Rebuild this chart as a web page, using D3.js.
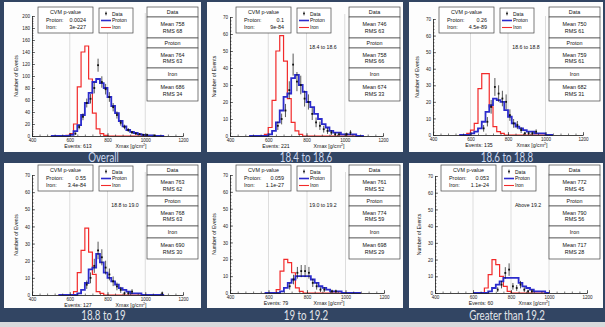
<!DOCTYPE html>
<html><head><meta charset="utf-8">
<script src="https://cdn.jsdelivr.net/npm/d3@7"></script>
<style>html,body{margin:0;padding:0;background:#324563;overflow:hidden}</style>
</head><body><svg id="c" width="605" height="327"></svg>
<script>
// ---------------- DATA ----------------
const binStart = 500, binWidth = 20;           // Xmax bins in g/cm^2
const xTicks = [400, 600, 800, 1000, 1200];
const gridLines = [600, 800, 1000];
const captions = ["Overall", "18.4 to 18.6", "18.6 to 18.8", "18.8 to 19", "19 to 19.2", "Greater than 19.2"];
const energyLabels = ["", "18.4 to 18.6", "18.6 to 18.8", "18.8 to 19.0", "19.0 to 19.2", "Above 19.2"];
const eventCounts = [613, 221, 135, 127, 79, 60];
const yMaxes = [200, 70, 70, 70, 70, 70];
const yTickSteps = [20, 10, 10, 10, 10, 10];
const cvmProton = ["0.0024", "0.1", "0.26", "0.55", "0.059", "0.053"];
const cvmIron = ["3e-227", "9e-84", "4.5e-89", "3.4e-84", "1.1e-27", "1.1e-24"];
const dataMean = [758, 746, 750, 763, 761, 772];
const dataRms = [68, 63, 61, 62, 52, 45];
const protonMean = [764, 758, 759, 768, 774, 790];
const protonRms = [63, 66, 61, 63, 59, 56];
const ironMean = [686, 674, 682, 690, 698, 717];
const ironRms = [34, 33, 31, 30, 29, 28];

// histogram contents per 20 g/cm^2 bin starting at 500 (null = outside histogram range)
const iron_all   = [0,0,0,0,1,4,20,82,140,150,95,38,12,4,1,0,0,0,0,0,0,0,0,0,0,0,0,0,0,0];
const proton_all = [0,0,0,0,0,2,8,18,35,55,72,90,95,88,80,65,50,38,25,16,10,7,5,3,2,1,1,0,0,0];
const data_all   = [0,0,0,0,0,0,4,15,32,55,62,80,118,90,78,65,48,35,22,15,10,6,4,3,2,2,0,1,0,0];

const iron_184   = [0,0,0,0,1,5,21,50,59,44,22,8,3,1,0,0,0,0,0,0,0,0,0,0,0,0,0,0,0,0];
const proton_184 = [0,0,0,0,0,1,3,8,15,23,25,34,36,30,26,20,17,13,10,7,5,3,2,2,1,1,1,1,0,0];
const data_184   = [0,0,0,0,0,0,0,6,10,15,27,42,32,30,22,20,13,8,6,4,3,2,1,1,0,1,2,0,0,0];

const iron_186   = [null,null,0,0,1,3,7,28,37,37,17,5,2,1,0,0,0,0,0,0,0,0,0,0,0,0,0,null,null,null];
const proton_186 = [null,null,0,0,0,1,2,4,8,14,18,22,21,20,15,11,7,5,4,3,2,2,1,1,1,0,0,null,null,null];
const data_186   = [null,null,0,0,0,0,0,0,4,8,17,29,25,22,20,12,7,6,3,1,1,1,2,0,0,0,0,null,null,null];

const iron_188   = [null,null,0,0,0,0,2,13,26,39,25,12,2,1,0,0,0,0,0,0,0,0,0,0,0,0,0,0,0,0];
const proton_188 = [null,null,0,0,0,0,0,1,3,7,15,16,24,19,13,10,8,6,4,3,2,1,1,1,0,0,0,0,0,0];
const data_188   = [null,null,0,0,0,0,0,0,0,6,10,17,26,22,16,12,8,5,3,1,1,2,0,0,0,0,0,0,0,1];

const iron_190   = [null,null,null,null,0,0,0,2,13,20,18,12,3,1,0,0,0,0,0,0,0,0,0,0,0,0,0,0,0,null];
const proton_190 = [null,null,null,null,0,0,0,0,1,3,6,8,10,10,10,10,8,6,4,3,2,1,1,1,0,0,0,0,0,null];
const data_190   = [null,null,null,null,0,0,0,0,0,0,4,8,12,13,13,12,6,4,2,2,0,1,1,0,0,0,0,0,0,null];

const iron_192   = [null,null,null,null,null,0,0,0,3,11,20,17,10,4,1,0,0,0,0,0,0,0,0,0,0,null,null,null,null,null];
const proton_192 = [null,null,null,null,null,0,0,0,0,1,3,5,7,9,9,9,9,6,4,3,2,1,1,1,0,null,null,null,null,null];
const data_192   = [null,null,null,null,null,0,0,0,0,0,0,2,5,12,14,4,3,5,2,1,1,0,0,0,0,null,null,null,null,null];

const ironSeries = [iron_all, iron_184, iron_186, iron_188, iron_190, iron_192];
const protonSeries = [proton_all, proton_184, proton_186, proton_188, proton_190, proton_192];
const dataSeries = [data_all, data_184, data_186, data_188, data_190, data_192];

// ---------------- LAYOUT ----------------
const layout = [
  {px:4,   py:2,   pw:197, ph:150, ax0:32,  ax1:183, ay0:136, ay1:16,  by:7,   capY:161.5},
  {px:207, py:2,   pw:196, ph:150, ax0:230, ax1:383, ay0:136, ay1:17,  by:7,   capY:161.5},
  {px:409, py:2,   pw:194, ph:150, ax0:433, ax1:583, ay0:135, ay1:19,  by:7,   capY:161.5},
  {px:4,   py:163, pw:197, ph:145, ax0:32,  ax1:183, ay0:295, ay1:175, by:165, capY:319.5},
  {px:207, py:163, pw:196, ph:145, ax0:230, ax1:384, ay0:293, ay1:175, by:165, capY:319.5},
  {px:409, py:163, pw:194, ph:145, ax0:435, ax1:587, ay0:293, ay1:176, by:165, capY:319.5}
];
const RED = "#f22a2a", BLUE = "#2b2bcc", FONT = "Liberation Sans, Arial, sans-serif";

const svg = d3.select("#c");
svg.append("rect").attr("width", 605).attr("height", 327).attr("fill", "#324563");
svg.append("rect").attr("y", 322).attr("width", 605).attr("height", 5).attr("fill", "#d9dadc");

function txt(g, x, y, s, size, anchor, extra) {
  const t = g.append("text").attr("x", x).attr("y", y).text(s)
    .attr("font-family", FONT).attr("font-size", size).attr("fill", "#111")
    .attr("text-anchor", anchor || "start");
  if (extra) extra(t);
  return t;
}

function histPoints(vals, x, y) {
  const pts = []; let last = null;
  vals.forEach((v, i) => {
    if (v == null) return;
    const x0 = x(binStart + i * binWidth), x1 = x(binStart + (i + 1) * binWidth);
    if (last == null) pts.push([x0, y(0)]);
    pts.push([x0, y(v)], [x1, y(v)]);
    last = x1;
  });
  pts.push([last, y(0)]);
  return pts;
}

function drawPanel(k) {
  const L = layout[k];
  const g = svg.append("g");
  g.append("rect").attr("x", L.px).attr("y", L.py).attr("width", L.pw).attr("height", L.ph).attr("fill", "#fdfdfd");

  const x = d3.scaleLinear().domain([400, 1200]).range([L.ax0, L.ax1]);
  const y = d3.scaleLinear().domain([0, yMaxes[k]]).range([L.ay0, L.ay1]);

  // grid
  g.selectAll(".grid").data(gridLines).enter().append("line")
    .attr("x1", d => x(d)).attr("x2", d => x(d)).attr("y1", y(yMaxes[k]) - 3).attr("y2", L.ay0)
    .attr("stroke", "#cfcfcf").attr("stroke-width", 0.7);

  const line = d3.line();
  g.append("path").attr("d", line(histPoints(ironSeries[k], x, y)))
    .attr("fill", "none").attr("stroke", RED).attr("stroke-width", 1.2);
  g.append("path").attr("d", line(histPoints(protonSeries[k], x, y)))
    .attr("fill", "none").attr("stroke", BLUE).attr("stroke-width", 1.8);

  // data points with sqrt(N) errors
  const pts = dataSeries[k].map((v, i) => ({v, c: binStart + (i + 0.5) * binWidth})).filter(d => d.v);
  g.selectAll(".err").data(pts).enter().append("line")
    .attr("x1", d => x(d.c)).attr("x2", d => x(d.c))
    .attr("y1", d => y(Math.max(0, d.v - Math.sqrt(d.v)))).attr("y2", d => y(d.v + Math.sqrt(d.v)))
    .attr("stroke", "#111").attr("stroke-width", 0.7);
  g.selectAll(".pt").data(pts).enter().append("rect")
    .attr("x", d => x(d.c) - 0.9).attr("y", d => y(d.v) - 0.9).attr("width", 1.8).attr("height", 1.8)
    .attr("fill", "#111");

  // axes
  const yTicks = d3.range(0, yMaxes[k] + 0.001, yTickSteps[k]);
  const yMinor = d3.range(0, yMaxes[k] + 0.001, yTickSteps[k] / 5);
  const ax = g.append("g").attr("transform", `translate(${L.ax0},0)`)
    .call(d3.axisLeft(y).tickValues(yMinor).tickSize(-1.5).tickSizeOuter(0).tickFormat(""));
  const ax2 = g.append("g").attr("transform", `translate(${L.ax0},0)`)
    .call(d3.axisLeft(y).tickValues(yTicks).tickSize(-3).tickSizeOuter(0).tickPadding(2).tickFormat(d3.format("d")));
  const bx = g.append("g").attr("transform", `translate(0,${L.ay0})`)
    .call(d3.axisBottom(x).tickValues(d3.range(400, 1201, 40)).tickSize(-1.5).tickSizeOuter(0).tickFormat(""));
  const bx2 = g.append("g").attr("transform", `translate(0,${L.ay0})`)
    .call(d3.axisBottom(x).tickValues(xTicks).tickSize(-3).tickSizeOuter(0).tickPadding(2).tickFormat(d3.format("d")));
  [ax, ax2, bx, bx2].forEach(a => {
    a.selectAll("path,line").attr("stroke", "#222").attr("stroke-width", 0.6);
    a.selectAll("text").attr("font-family", FONT).attr("font-size", 4.6).attr("fill", "#222");
  });
  ax2.selectAll("text").attr("dy", "0.35em");
  bx2.selectAll("text").attr("dy", "0.9em");

  // axis titles
  txt(g, 0, 0, "Number of Events", 5.2, "middle", t =>
    t.attr("transform", `translate(${L.ax0 - 14},${(L.ay0 + L.ay1) / 2}) rotate(-90)`).attr("x", null).attr("y", null));
  txt(g, L.ax0 + 46, L.ay0 + 12, "Events: " + eventCounts[k], 5.2, "middle");
  const xt = txt(g, L.ax0 + 99, L.ay0 + 12, "Xmax  [g/cm", 5.2, "middle");
  xt.append("tspan").text("2").attr("font-size", 3.5).attr("dy", -2);
  xt.append("tspan").text("]").attr("dy", 2);

  if (energyLabels[k]) txt(g, L.ax0 + 93, L.by + 42, energyLabels[k], 5.2, "middle");

  // CVM box
  const cx = L.ax0 + 6, cw = 55, ch = 26;
  g.append("rect").attr("x", cx).attr("y", L.by).attr("width", cw).attr("height", ch)
    .attr("fill", "#fff").attr("stroke", "#444").attr("stroke-width", 0.7);
  txt(g, cx + cw / 2, L.by + 7, "CVM p-value", 5.4, "middle");
  txt(g, cx + 8, L.by + 14.5, "Proton:", 5.4);
  txt(g, cx + cw - 7, L.by + 14.5, cvmProton[k], 5.4, "end");
  txt(g, cx + 8, L.by + 21.5, "Iron:", 5.4);
  txt(g, cx + cw - 7, L.by + 21.5, cvmIron[k], 5.4, "end");

  // legend box
  const lx = L.ax0 + 67, lw = 34;
  g.append("rect").attr("x", lx).attr("y", L.by + 1).attr("width", lw).attr("height", ch - 1)
    .attr("fill", "#fff").attr("stroke", "#444").attr("stroke-width", 0.7);
  g.append("line").attr("x1", lx + 7).attr("x2", lx + 7).attr("y1", L.by + 4.5).attr("y2", L.by + 8.5).attr("stroke", "#111").attr("stroke-width", 0.6);
  g.append("rect").attr("x", lx + 6.2).attr("y", L.by + 5.7).attr("width", 1.6).attr("height", 1.6).attr("fill", "#111");
  txt(g, lx + 13, L.by + 8.5, "Data", 5);
  g.append("line").attr("x1", lx + 2).attr("x2", lx + 12).attr("y1", L.by + 13.5).attr("y2", L.by + 13.5).attr("stroke", BLUE).attr("stroke-width", 1.6);
  txt(g, lx + 13, L.by + 15.3, "Proton", 5);
  g.append("line").attr("x1", lx + 2).attr("x2", lx + 12).attr("y1", L.by + 20.5).attr("y2", L.by + 20.5).attr("stroke", RED).attr("stroke-width", 1.1);
  txt(g, lx + 13, L.by + 22.3, "Iron", 5);

  // stats boxes
  const sx = L.px + L.pw - 54, sw = 51;
  const sections = [
    {h: 10, lines: ["Data"]},
    {h: 21, lines: ["Mean  " + dataMean[k], "RMS  " + dataRms[k]]},
    {h: 10, lines: ["Proton"]},
    {h: 20, lines: ["Mean  " + protonMean[k], "RMS  " + protonRms[k]]},
    {h: 12, lines: ["Iron"]},
    {h: 21, lines: ["Mean  " + ironMean[k], "RMS  " + ironRms[k]]}
  ];
  let sy = L.by;
  sections.forEach(s => {
    g.append("rect").attr("x", sx).attr("y", sy).attr("width", sw).attr("height", s.h)
      .attr("fill", "#fff").attr("stroke", "#444").attr("stroke-width", 0.7);
    if (s.lines.length === 1) txt(g, sx + sw / 2, sy + s.h / 2 + 1.9, s.lines[0], 5.4, "middle");
    else {
      txt(g, sx + sw / 2, sy + s.h / 2 - 1.2, s.lines[0], 5.4, "middle");
      txt(g, sx + sw / 2, sy + s.h / 2 + 5.2, s.lines[1], 5.4, "middle");
    }
    sy += s.h;
  });
}

function drawCaption(k) {
  const L = layout[k];
  svg.append("text").attr("font-family", "Lato, 'Open Sans', sans-serif").attr("font-size", 12.5)
    .attr("fill", k < 3 ? "#cdd8ef" : "#e2e5ea").attr("text-anchor", "middle")
    .attr("transform", `translate(${L.px + L.pw / 2 + 1},${L.capY}) scale(0.78,1)`)
    .text(captions[k]);
}

[0, 1, 2].forEach(drawPanel);
[0, 1, 2].forEach(drawCaption);
[3, 4, 5].forEach(drawPanel);
[3, 4, 5].forEach(drawCaption);
</script></body></html>
